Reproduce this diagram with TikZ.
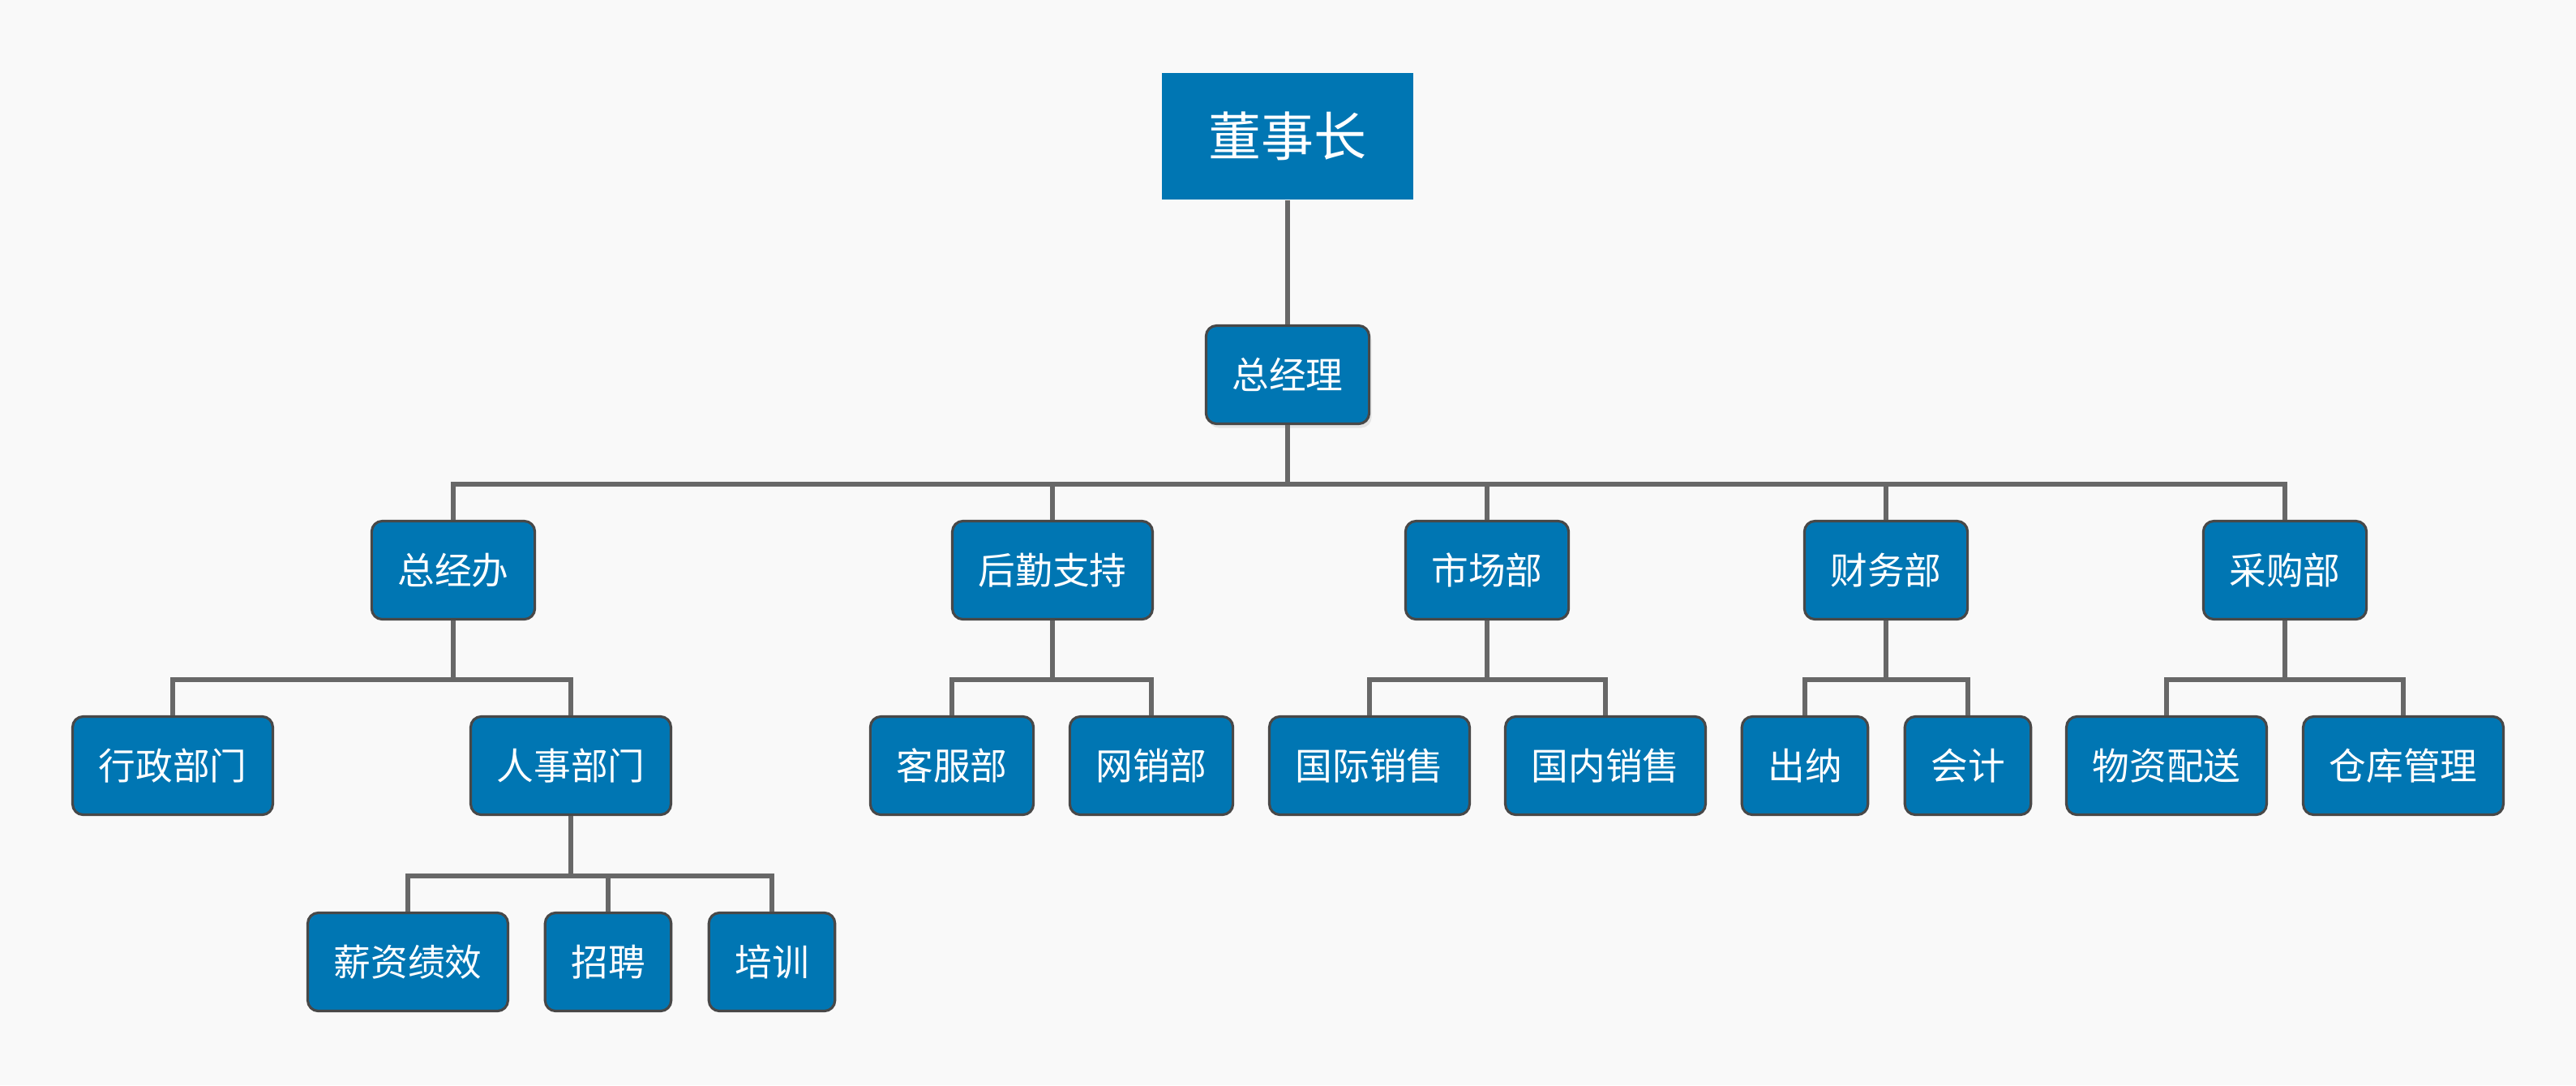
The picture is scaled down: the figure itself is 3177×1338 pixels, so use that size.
\documentclass[tikz,border=0pt]{standalone}
\usepackage{fontspec}
\setmainfont{Noto Sans CJK SC}
\usetikzlibrary{shadows}
\definecolor{boxblue}{RGB}{0,118,179}
\definecolor{linegray}{RGB}{104,104,104}
\definecolor{rimgray}{RGB}{72,72,72}
\definecolor{bggray}{RGB}{249,249,249}
\tikzset{
  unit/.style={draw=rimgray, line width=0.9pt, fill=boxblue, text=white,
    rounded corners=0.13cm, minimum height=1.21cm, inner xsep=0.32cm,
    font=\fontsize{13pt}{15pt}\selectfont},
  chair/.style={fill=boxblue, text=white, minimum width=3.09cm,
    minimum height=1.56cm, font=\fontsize{18.5pt}{22pt}\selectfont},
  link/.style={draw=linegray, line width=1.5pt},
}
\begin{document}
\begin{tikzpicture}[x=0.01cm, y=-0.01cm]
\fill[bggray] (0,0) rectangle (3177,1338);
\useasboundingbox (0,0) rectangle (3177,1338);

% top
\node[chair] (dsz) at (1588,168) {董事长};
\node[unit, drop shadow={shadow xshift=0.03cm, shadow yshift=-0.05cm, fill=black!18}] (zjl) at (1588,462) {总经理};

% departments
\node[unit] (zjb) at (559,703) {总经办};
\node[unit] (hq) at (1298,703) {后勤支持};
\node[unit] (sc) at (1834,703) {市场部};
\node[unit] (cw) at (2326,703) {财务部};
\node[unit] (cg) at (2818,703) {采购部};

% sections
\node[unit] (xz) at (213,944) {行政部门};
\node[unit] (rs) at (704,944) {人事部门};
\node[unit] (kf) at (1174,944) {客服部};
\node[unit] (wx) at (1420,944) {网销部};
\node[unit] (gj) at (1689,944) {国际销售};
\node[unit] (gn) at (1980,944) {国内销售};
\node[unit] (cn) at (2226,944) {出纳};
\node[unit] (kj) at (2427,944) {会计};
\node[unit] (wz) at (2672,944) {物资配送};
\node[unit] (ck) at (2964,944) {仓库管理};

% under 人事部门
\node[unit] (xj) at (503,1186) {薪资绩效};
\node[unit] (zp) at (750,1186) {招聘};
\node[unit] (px) at (952,1186) {培训};

\draw[link] (dsz.south) -- (zjl.north);
\foreach \p/\c in {zjl/zjb, zjl/hq, zjl/sc, zjl/cw, zjl/cg,
                   zjb/xz, zjb/rs, hq/kf, hq/wx, sc/gj, sc/gn,
                   cw/cn, cw/kj, cg/wz, cg/ck, rs/xj, rs/zp, rs/px}
  \draw[link] (\p.south) |- ([yshift=0.44cm]\c.north) -| (\c.north);
\end{tikzpicture}
\end{document}
